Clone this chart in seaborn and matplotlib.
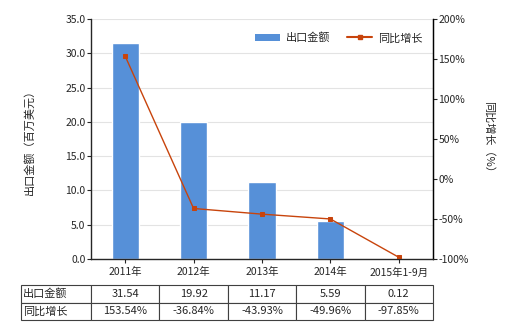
import matplotlib
matplotlib.use("Agg")
import matplotlib.pyplot as plt
import seaborn as sns
import pandas as pd
from matplotlib.patches import Patch
from matplotlib.lines import Line2D

categories = ["2011年", "2012年", "2013年", "2014年", "2015年1-9月"]
export_values = [31.54, 19.92, 11.17, 5.59, 0.12]
growth_values = [153.54, -36.84, -43.93, -49.96, -97.85]
export_labels = ["31.54", "19.92", "11.17", "5.59", "0.12"]
growth_labels = ["153.54%", "-36.84%", "-43.93%", "-49.96%", "-97.85%"]
left_ticks = [0, 5, 10, 15, 20, 25, 30, 35]
right_ticks = [-100, -50, 0, 50, 100, 150, 200]

sns.set_style("white")
plt.rcParams['font.family'] = ['Noto Sans CJK SC', 'DejaVu Sans']
plt.rcParams['axes.unicode_minus'] = False

bar_color = "#5690D8"
line_color = "#C8440C"

df = pd.DataFrame({"cat": categories, "export": export_values, "growth": growth_values})

fig = plt.figure(figsize=(5.2, 3.3), dpi=100)
ax = fig.add_axes([91/520, 1-259/330, (433-91)/520, (259-19)/330])

sns.barplot(data=df, x="cat", y="export", color=bar_color, width=0.4,
            saturation=1, ax=ax, zorder=2)
ax.set_ylim(0, 35)
ax.set_yticks(left_ticks)
ax.set_yticklabels([f"{v:.1f}" for v in left_ticks], fontsize=7.5)
ax.yaxis.grid(True, color="#E3E3E3", linewidth=0.8, zorder=0)
ax.set_axisbelow(True)
ax.set_xlabel("")
ax.set_ylabel("出口金额（百万美元）", fontsize=8, labelpad=22)
ax.tick_params(axis="x", labelsize=7.5, length=3, direction="out", bottom=True, pad=3)
ax.tick_params(axis="y", length=3, direction="out", left=True, pad=1)
ax.set_xlim(-0.5, 4.5)
for s in ["left", "bottom", "right"]:
    ax.spines[s].set_color("black")
    ax.spines[s].set_linewidth(0.9)
ax.spines["top"].set_visible(False)

ax2 = ax.twinx()
sns.pointplot(data=df, x="cat", y="growth", color=line_color, markers="s",
              markersize=3, linewidth=1.0, ax=ax2)
ax2.set_xlim(-0.5, 4.5)
ax2.set_ylim(-100, 200)
ax2.set_yticks(right_ticks)
ax2.set_yticklabels([f"{v}%" for v in right_ticks], fontsize=7.5)
ax2.set_ylabel("同比增长（%）", fontsize=8, rotation=-90, labelpad=18)
ax2.tick_params(axis="y", length=3, direction="out", right=True, pad=1)
ax2.spines["top"].set_visible(False)
ax2.spines["right"].set_color("black")
ax2.spines["right"].set_linewidth(0.9)
ax2.set_xlabel("")

handles = [Patch(facecolor=bar_color, edgecolor="none"),
           Line2D([0], [0], color=line_color, lw=1.5, marker="s", markersize=3)]
ax2.legend(handles, ["出口金额", "同比增长"], loc="upper right",
           bbox_to_anchor=(1.0, 0.985), ncol=2, frameon=False, fontsize=8,
           handlelength=2.2, columnspacing=1.5, handletextpad=0.6)

# data table
cell_text = [["出口金额"] + export_labels, ["同比增长"] + growth_labels]
w0 = 70/342
wc = (1.0) / 5
tbl = ax.table(cellText=cell_text, cellLoc="center",
               colWidths=[w0] + [wc]*5,
               bbox=[-w0, (259-320)/240, 1 + w0, (320-285)/240])
tbl.auto_set_font_size(False)
tbl.set_fontsize(8)
for (r, c), cell in tbl.get_celld().items():
    cell.set_edgecolor("#404040")
    cell.set_linewidth(0.8)
    if c == 0:
        cell._loc = "left"
        cell.get_text().set_ha("left")
        cell.PAD = 0.03

fig.savefig("out.png", dpi=100)
